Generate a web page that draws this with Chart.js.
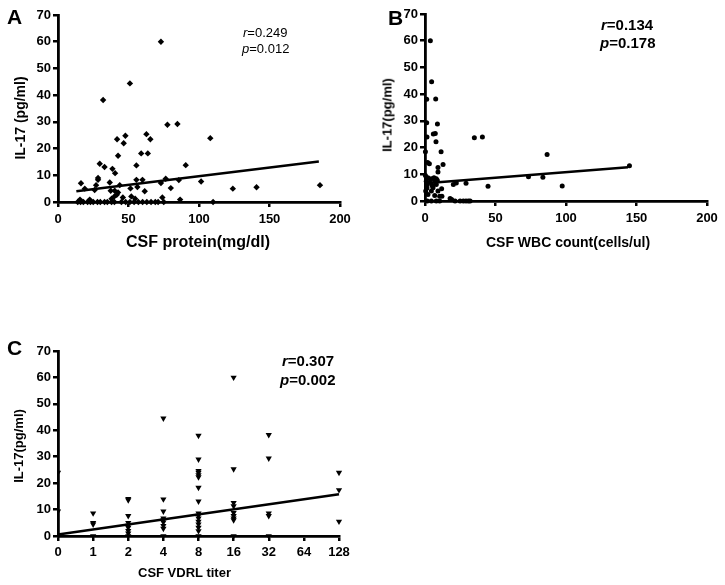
<!DOCTYPE html>
<html>
<head>
<meta charset="utf-8">
<script src="https://cdn.jsdelivr.net/npm/chart.js@4/dist/chart.umd.min.js"></script>
<style>
  html, body { margin:0; padding:0; background:#fff; }
  body { width:725px; height:585px; position:relative; overflow:hidden; font-family:"Liberation Sans", Arial, sans-serif; color:#000; }
  canvas { position:absolute; }
  .t { position:absolute; white-space:nowrap; line-height:1; color:#000; }
  .b { font-weight:bold; }
  .rot { transform: translate(-50%,-50%) rotate(-90deg); }
  .ctr { transform: translateX(-50%); }
</style>
</head>
<body>
<canvas id="cA" width="362" height="260" style="left:0;top:0;"></canvas>
<canvas id="cB" width="358" height="260" style="left:367px;top:0;"></canvas>
<canvas id="cC" width="362" height="285" style="left:0;top:300px;"></canvas>

<div class="t b" style="left:7px;top:6px;font-size:21px;">A</div>
<div class="t b" style="left:388px;top:7px;font-size:21px;">B</div>
<div class="t b" style="left:7px;top:337px;font-size:21px;">C</div>

<div class="t" style="left:243px;top:26px;font-size:13px;"><i>r</i>=0.249</div>
<div class="t" style="left:242px;top:41.5px;font-size:13px;"><i>p</i>=0.012</div>
<div class="t b" style="left:601px;top:17px;font-size:15px;"><i>r</i>=0.134</div>
<div class="t b" style="left:600px;top:35px;font-size:15px;"><i>p</i>=0.178</div>
<div class="t b" style="left:282px;top:353px;font-size:15px;"><i>r</i>=0.307</div>
<div class="t b" style="left:280px;top:372px;font-size:15px;"><i>p</i>=0.002</div>

<div class="t b ctr" style="left:198px;top:234px;font-size:16px;">CSF protein(mg/dl)</div>
<div class="t b rot" style="left:20px;top:118px;font-size:14px;">IL-17 (pg/ml)</div>
<div class="t b ctr" style="left:568px;top:235px;font-size:14px;">CSF WBC count(cells/ul)</div>
<div class="t b rot" style="left:387px;top:115px;font-size:13px;">IL-17(pg/ml)</div>
<div class="t b" style="left:138px;top:566px;font-size:13px;">CSF VDRL titer</div>
<div class="t b rot" style="left:18px;top:446px;font-size:13px;">IL-17(pg/ml)</div>

<script>
// ---------- Data ----------
// Panel A: CSF protein (mg/dl) vs IL-17 (pg/ml)
const proteinA = [73,51,32,77.6,84.7,108,47.8,41.9,46.6,62.7,65.5,42.6,59,63.7,29.6,33,55.6,90.6,38.6,40.5,28.4,28.4,16.3,36.7,55.6,59.9,76.4,73,85.7,101.5,80,124,140.8,185.8,27,43.8,61.5,56.3,51.4,19,26,37.4,40.2,42.6,46,74,52,41.7,40,38,15.6,22.5,54.7,86.6,
  14,16,18,21,23,25,28,30,33,35,38,40,45,48,51,54,57,60,63,66,69,71,75,110];
const il17A = [60,44.4,38.2,28.9,29.2,23.9,24.8,23.5,22,25.4,23.5,17.3,18.2,18.2,14.3,13.1,13.7,13.8,12.4,10.8,9,8.3,7,7.3,8.3,8.3,8.7,7.1,8.2,7.7,5.2,5,5.5,6.3,6.3,6.3,4,5.6,5.1,5,4.5,4.2,4.2,3.6,1.7,1.7,2.1,2.7,2.1,1.2,0.9,0.9,1.2,0.9,
  0,0,0,0,0,0,0,0,0,0,0,0,0,0,0,0,0,0,0,0,0,0,0,0];
const fitAx = [13, 185];
const fitAy = [4.0, 15.2];

// Panel B: CSF WBC count (cells/ul) vs IL-17 (pg/ml)
const wbcB = [3.8,4.7,7.6,1.2,8.8,1.2,5.9,7.3,1.4,7.8,11.4,0.3,35,40.7,86.6,145,12.8,1.9,3.1,9.2,9.2,73.4,83.6,44.7,97.3,29.1,22.2,20.1,11.8,5.7,18.9,17.8,
  2.1,4.5,6.4,8,0.9,3.3,6.9,8.7,1.6,5,8,1.4,0.5,4.5,9.2,2.1,6.9,10.4,12,0.3,
  1.6,4.5,8,10.4,21.3,24.9,27.2,29.1,30.8,32];
const il17B = [60,44.6,38.2,38.1,28.8,29.3,25.1,25.3,24,22.2,18.4,18.4,23.7,24,17.4,13.2,13.7,14.4,13.9,12.5,10.9,9.1,8.9,5.5,5.6,6.6,6.7,6.2,4.6,5,0.6,0.9,
  8.7,8.3,8.7,8.3,7.4,7,7.4,7.8,6.2,5.8,6.2,4.9,3.7,3.7,3.7,2.4,2.1,1.8,1.8,9.5,
  0,0,0,0,0,0,0,0,0,0];
const fitBx = [0.5, 144];
const fitBy = [6.6, 12.6];

// Panel C: CSF VDRL titer vs IL-17 (pg/ml)
const titerLabels = ['0','1','2','4','8','16','32','64','128'];
const titerC = [0,0,0,
  1,1,1,1,
  2,2,2,2,2,2,2,2,2,
  4,4,4,4,4,4,4,4,4,
  8,8,8,8,8,8,8,8,8,8,8,8,8,8,8,8,
  16,16,16,16,16,16,16,16,16,
  32,32,32,32,32,
  128,128,128];
const il17C = [24,9.3,0,
  8.6,5,4.4,0,
  14.1,13.6,7.6,5,4,3.2,2,1,0,
  44.5,13.9,9.3,6.7,6,5.2,3.9,2.8,0,
  38,29,24.7,24,23.1,22.3,18.3,13.1,8.6,7.7,6.7,5.5,4.4,3.2,1.9,0,
  60,25.3,12.6,11.3,8.8,7.6,6.7,6,0,
  38.3,29.4,8.6,7.6,0,
  24,17.4,5.5];
const fitCx = ['0', '128'];
const fitCy = [0.6, 15.8];

// ---------- Helpers ----------
Chart.defaults.font.family = '"Liberation Sans", Arial, sans-serif';
Chart.defaults.color = '#000';

function pts(xs, ys) { return xs.map((x, i) => ({ x: x, y: ys[i] })); }

function axis(min, max, step, fitSize, isX, tickPad, cb) {
  const a = {
    type: 'linear', min: min, max: max,
    ticks: { stepSize: step, autoSkip: false, color: '#000', padding: tickPad,
             font: { size: 13, weight: 'bold' } },
    grid: { display: true, drawOnChartArea: false, drawTicks: true, tickLength: 5,
            tickWidth: 2.5, tickColor: '#000', color: '#000', lineWidth: 2.5 },
    border: { display: true, color: '#000', width: 2.8 },
    afterFit: function (s) { if (isX) s.height = fitSize; else s.width = fitSize; }
  };
  if (cb) a.ticks.callback = cb;
  return a;
}

function makeChart(id, scatter, fit, style, xAxis, yAxis, pad, clip) {
  new Chart(document.getElementById(id), {
    type: 'scatter',
    data: {
      datasets: [
        Object.assign({
          data: scatter, backgroundColor: '#000', borderColor: '#000', borderWidth: 0,
          clip: clip
        }, style),
        { type: 'line', data: fit, borderColor: '#000', borderWidth: 2.5, pointRadius: 0,
          fill: false, showLine: true, clip: false }
      ]
    },
    options: {
      responsive: false, animation: false, devicePixelRatio: 1,
      layout: { padding: pad },
      plugins: { legend: { display: false }, tooltip: { enabled: false } },
      scales: { x: xAxis, y: yAxis }
    }
  });
}

// Panel A
makeChart('cA', pts(proteinA, il17A), pts(fitAx, fitAy),
  { pointStyle: 'rectRot', pointRadius: 3.2 },
  axis(0, 200, 50, 58, true, 5),
  axis(0, 70, 10, 58, false, 2),
  { top: 15, right: 22, left: 0, bottom: 0 }, false);

// Panel B
makeChart('cB', pts(wbcB, il17B), pts(fitBx, fitBy),
  { pointStyle: 'circle', pointRadius: 2.5 },
  axis(0, 200, 50, 59, true, 5),
  axis(0, 70, 10, 58, false, 2),
  { top: 14, right: 18, left: 0, bottom: 0 }, false);

// Panel C (categorical titer positions)
const idx = v => titerLabels.indexOf(String(v));
makeChart('cC', pts(titerC.map(idx), il17C), pts(fitCx.map(idx), fitCy),
  { pointStyle: 'triangle', rotation: 180, pointRadius: 3.6 },
  axis(0, titerLabels.length - 1, 1, 49, true, 4, v => titerLabels[v]),
  axis(0, 70, 10, 58, false, 2),
  { top: 51, right: 23, left: 0, bottom: 0 }, { left: 0, top: false, right: false, bottom: false });
</script>
</body>
</html>
